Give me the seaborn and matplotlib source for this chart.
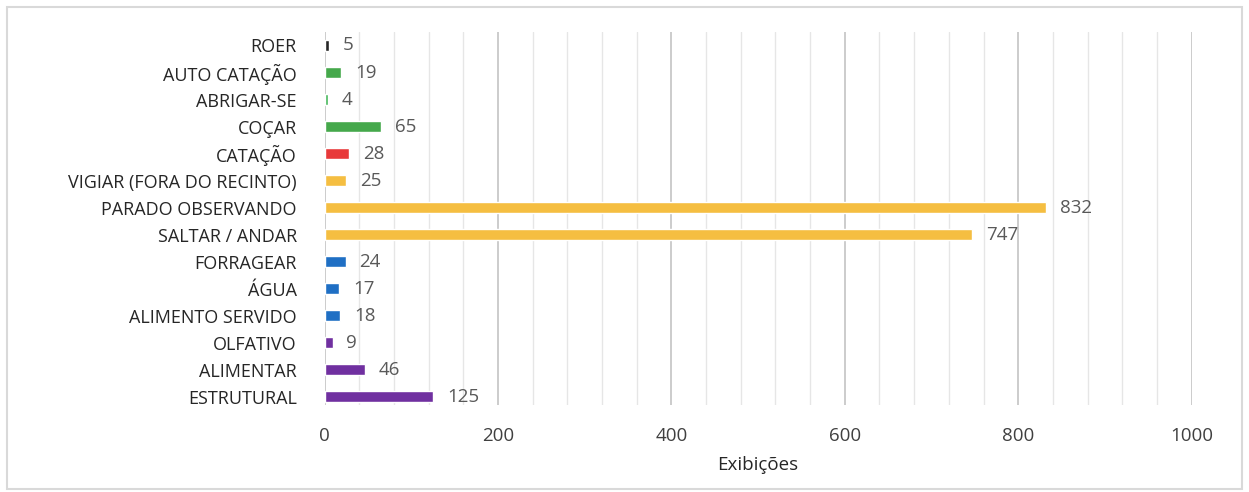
import numpy as np
import pandas as pd
import seaborn as sns
import matplotlib.pyplot as plt
from matplotlib.patches import Rectangle
from matplotlib.ticker import MultipleLocator

# dados do gráfico
comportamentos = ['ROER', 'AUTO CATAÇÃO', 'ABRIGAR-SE', 'COÇAR', 'CATAÇÃO',
                  'VIGIAR (FORA DO RECINTO)', 'PARADO OBSERVANDO', 'SALTAR / ANDAR',
                  'FORRAGEAR', 'ÁGUA', 'ALIMENTO SERVIDO', 'OLFATIVO', 'ALIMENTAR',
                  'ESTRUTURAL']
exibicoes = [5, 19, 4, 65, 28, 25, 832, 747, 24, 17, 18, 9, 46, 125]
cores = ['#262626', '#45a84b', '#45b85a', '#45a84b', '#e8393a',
         '#f5be41', '#f5be41', '#f5be41',
         '#1f6fc4', '#1f6fc4', '#1f6fc4', '#7030a0', '#7030a0', '#7030a0']

df = pd.DataFrame({'comportamento': comportamentos, 'exibicoes': exibicoes})

sns.set_theme(style='white')
plt.rcParams['font.family'] = ['Open Sans', 'DejaVu Sans']

fig = plt.figure(figsize=(12.49, 4.92), dpi=100)
ax = fig.add_axes([0.260, 0.177, 0.694, 0.758])

sns.barplot(data=df, y='comportamento', x='exibicoes', hue='comportamento',
            palette=cores, orient='h', width=0.4, saturation=1, legend=False, ax=ax)

ax.set_xlim(0, 1000)
ax.set_ylim(13.3, -0.5)
ax.xaxis.set_major_locator(MultipleLocator(200))
ax.xaxis.set_minor_locator(MultipleLocator(40))
ax.grid(axis='x', which='major', color='#c8c8c8', lw=1.3)
ax.grid(axis='x', which='minor', color='#e6e6e6', lw=1.0)
ax.set_axisbelow(True)
for s in ax.spines.values():
    s.set_visible(False)
ax.tick_params(axis='both', length=0)
ax.tick_params(axis='x', pad=16, labelsize=13.5, labelcolor='#404040')
ax.tick_params(axis='y', pad=20, labelsize=13, labelcolor='#262626')

for i, v in enumerate(exibicoes):
    ax.text(v + 16, i, str(v), va='center', ha='left', fontsize=13.5, color='#595959')

ax.set_ylabel('')
ax.set_xlabel('Exibições', fontsize=13.5, color='#262626', labelpad=8)

fig.patches.append(Rectangle((0.006, 0.006), 0.988, 0.98, transform=fig.transFigure,
                             fill=False, edgecolor='#d9d9d9', lw=1.5))

fig.savefig('out.png', dpi=100)
